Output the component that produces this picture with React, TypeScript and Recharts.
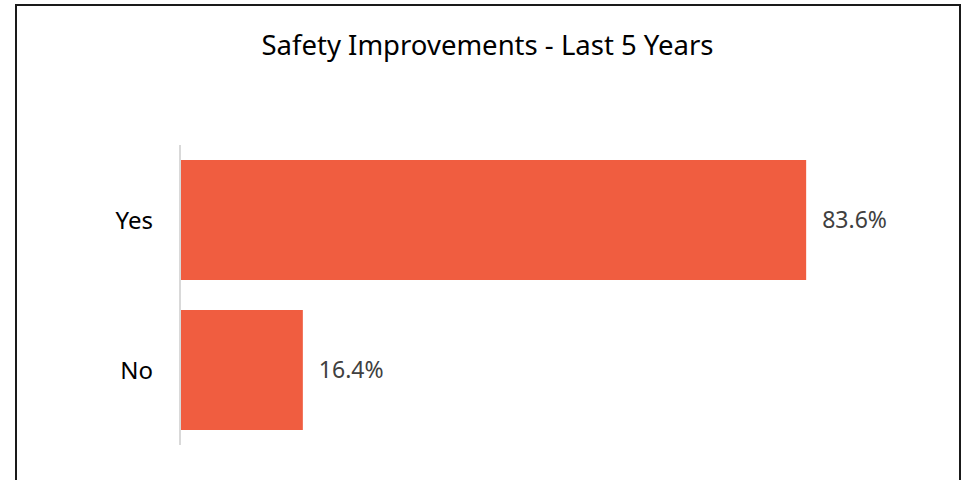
import React from "react";
import { BarChart, Bar, XAxis, YAxis, LabelList } from "recharts";

const categories = ["Yes", "No"];
const values = [83.6, 16.4];
const title = "Safety Improvements - Last 5 Years";

const data = categories.map((c, i) => ({ name: c, value: values[i] }));

const FONT = "'Noto Sans', 'Open Sans', sans-serif";

export default function App() {
  return (
    <div style={{ position: "absolute", left: 0, top: 0, width: 966, height: 480, background: "#fff", overflow: "hidden" }}>
      <div
        style={{
          position: "absolute",
          left: 15,
          top: 4,
          width: 942,
          height: 500,
          border: "2px solid #1a1a1a",
          boxSizing: "content-box",
        }}
      />
      <div
        style={{
          position: "absolute",
          left: 0,
          top: 26,
          width: 975,
          textAlign: "center",
          fontFamily: FONT,
          fontSize: 27.5,
          color: "#000",
          lineHeight: "38px",
        }}
      >
        {title}
      </div>
      <div style={{ position: "absolute", left: 0, top: 0 }}>
        <BarChart
          width={966}
          height={480}
          data={data}
          layout="vertical"
          margin={{ top: 145, right: 37, bottom: 35, left: 0 }}
          barCategoryGap="10%"
        >
          <XAxis type="number" domain={[0, 100]} hide />
          <YAxis
            type="category"
            dataKey="name"
            width={180}
            tickLine={false}
            tickSize={0}
            tickMargin={27}
            axisLine={{ stroke: "#d9d9d9", strokeWidth: 2 }}
            tick={{ fill: "#000", fontSize: 24, fontFamily: FONT }}
          />
          <Bar dataKey="value" fill="#F05D40" isAnimationActive={false}>
            <LabelList
              dataKey="value"
              position="right"
              offset={16}
              formatter={(v: number) => `${v.toFixed(1)}%`}
              style={{ fill: "#404040", fontSize: 23, fontFamily: FONT }}
            />
          </Bar>
        </BarChart>
      </div>
    </div>
  );
}
